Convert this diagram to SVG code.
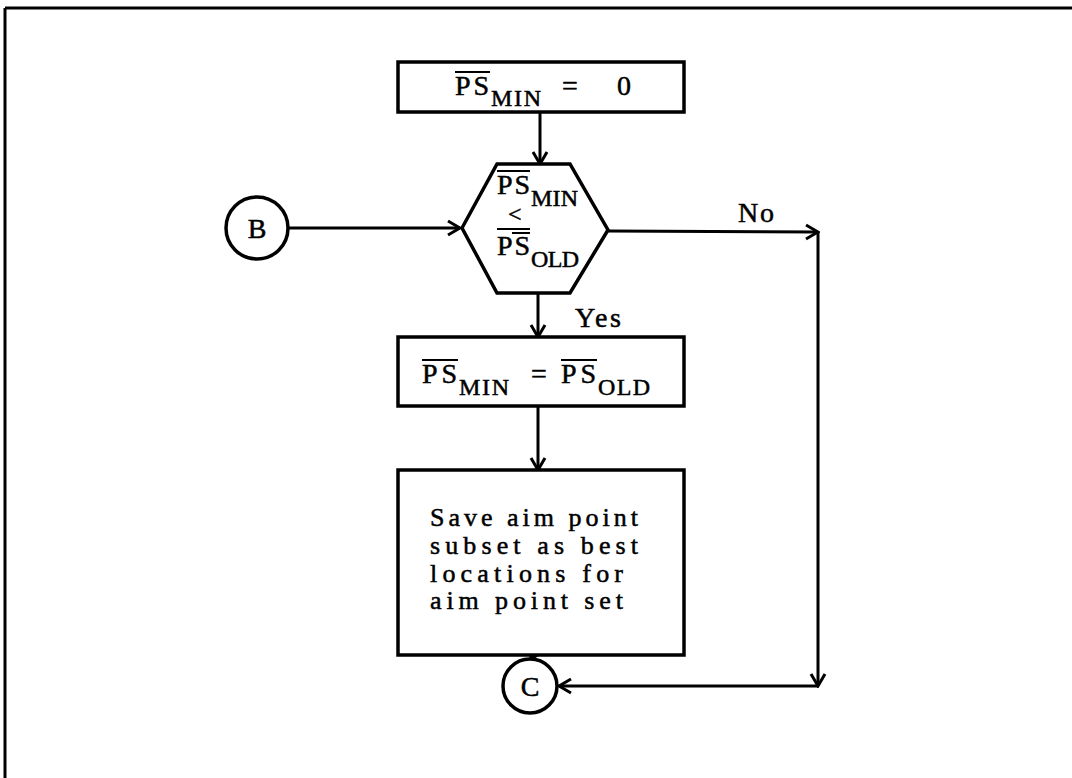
<svg xmlns="http://www.w3.org/2000/svg" width="1072" height="778" viewBox="0 0 1072 778">
<defs>
<style>
.ln{fill:none;stroke:#000;stroke-width:3}
.sh{fill:#fff;stroke:#000;stroke-width:3.5}
.t{font-family:"Liberation Serif","DejaVu Serif",serif;font-size:28px;fill:#000;stroke:#000;stroke-width:0.5}
.b{font-family:"Liberation Serif","DejaVu Serif",serif;font-size:26px;fill:#000;stroke:#000;stroke-width:0.5}
.s{font-family:"Liberation Serif","DejaVu Serif",serif;font-size:24px;fill:#000;stroke:#000;stroke-width:0.5}
.ov{stroke:#000;stroke-width:2}
</style>
<marker id="ah" viewBox="0 0 20 20" refX="18" refY="10" markerWidth="20" markerHeight="20" markerUnits="userSpaceOnUse" orient="auto">
<path d="M6,3 L18,10 L6,17" fill="none" stroke="#000" stroke-width="3"/>
</marker>
</defs>
<g id="frame">
<line x1="5" y1="8" x2="1072" y2="8" class="ln"/>
<line x1="5" y1="8" x2="5" y2="778" class="ln" stroke-width="2"/>
</g>
<g id="connectors">
<line x1="540" y1="112" x2="540" y2="164" class="ln" marker-end="url(#ah)"/>
<line x1="288" y1="228" x2="460" y2="228" class="ln" marker-end="url(#ah)"/>
<line x1="608" y1="231" x2="818" y2="232" class="ln" marker-end="url(#ah)"/>
<line x1="818" y1="232" x2="818" y2="686" class="ln" marker-end="url(#ah)"/>
<line x1="818" y1="686" x2="559" y2="686" class="ln" marker-end="url(#ah)"/>
<line x1="538" y1="293" x2="538" y2="337" class="ln" marker-end="url(#ah)"/>
<line x1="538" y1="406" x2="538" y2="470" class="ln" marker-end="url(#ah)"/>
<line x1="533" y1="655" x2="531" y2="659" class="ln" marker-end="url(#ah)"/>
<text x="738" y="222" class="t" textLength="36" lengthAdjust="spacing">No</text>
<text x="575" y="327" class="t" textLength="46" lengthAdjust="spacing">Yes</text>
</g>
<g id="start">
<rect x="398" y="62" width="286" height="50" class="sh"/>
<line x1="455" y1="72" x2="490" y2="72" class="ov"/>
<text x="455" y="95" class="t" textLength="34" lengthAdjust="spacing">PS</text>
<text x="491" y="106" class="s" textLength="50" lengthAdjust="spacing">MIN</text>
<text x="562" y="95" class="t">=</text>
<text x="617" y="95" class="t">0</text>
</g>
<g id="B">
<circle cx="257" cy="228" r="31" class="sh"/>
<text x="257" y="238" class="t" text-anchor="middle">B</text>
</g>
<g id="decision">
<polygon points="462,228 497,164 570,164 608,230 570,293 497,293" class="sh"/>
<line x1="497" y1="171" x2="530" y2="171" class="ov"/>
<text x="497" y="194" class="t" textLength="33" lengthAdjust="spacing">PS</text>
<text x="531" y="206" class="s" textLength="47" lengthAdjust="spacing">MIN</text>
<text x="508" y="222" class="s">&lt;</text>
<line x1="497" y1="229" x2="530" y2="229" class="ov"/>
<line x1="512" y1="233" x2="530" y2="233" class="ov"/>
<text x="497" y="255" class="t" textLength="33" lengthAdjust="spacing">PS</text>
<text x="531" y="267" class="s" textLength="48" lengthAdjust="spacing">OLD</text>
</g>
<g id="assign">
<rect x="398" y="337" width="286" height="69" class="sh"/>
<line x1="422" y1="360" x2="458" y2="360" class="ov"/>
<text x="422" y="383" class="t" textLength="35" lengthAdjust="spacing">PS</text>
<text x="459" y="395" class="s" textLength="50" lengthAdjust="spacing">MIN</text>
<text x="531" y="383" class="t">=</text>
<line x1="561" y1="360" x2="597" y2="360" class="ov"/>
<text x="561" y="383" class="t" textLength="35" lengthAdjust="spacing">PS</text>
<text x="598" y="395" class="s" textLength="52" lengthAdjust="spacing">OLD</text>
</g>
<g id="save">
<rect x="398" y="470" width="286" height="185" class="sh"/>
<text x="430" y="526" class="b" textLength="208" lengthAdjust="spacing">Save aim point</text>
<text x="430" y="554" class="b" textLength="208" lengthAdjust="spacing">subset as best</text>
<text x="430" y="582" class="b" textLength="193" lengthAdjust="spacing">locations for</text>
<text x="430" y="609" class="b" textLength="193" lengthAdjust="spacing">aim point set</text>
</g>
<g id="C">
<circle cx="530" cy="686" r="27" class="sh"/>
<text x="530" y="696" class="t" text-anchor="middle">C</text>
</g>
</svg>
